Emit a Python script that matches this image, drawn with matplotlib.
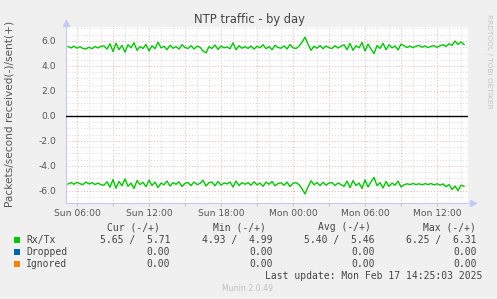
import numpy as np
import matplotlib
matplotlib.use('Agg')
import matplotlib.pyplot as plt
from matplotlib.ticker import MultipleLocator, FuncFormatter

# NTP traffic, 15 min samples starting Sun 05:15 (hours since Sun 00:00)
t_start = 5.25
t_step = 0.25
tx = [5.56, 5.44, 5.58, 5.42, 5.54, 5.40, 5.36, 5.50, 5.38, 5.56, 5.44, 5.58,
      5.60, 5.35, 5.78, 5.15, 5.82, 5.30, 5.65, 5.10, 5.70, 5.45, 5.85, 5.25, 5.55, 5.40, 5.72, 5.20,
      5.62, 5.38, 5.90, 5.45, 5.58, 5.30, 5.66, 5.42, 5.55, 5.35, 5.70, 5.48, 5.40, 5.62, 5.36, 5.58,
      5.50, 5.20, 5.05, 5.55, 5.40, 5.68, 5.32, 5.60, 5.45, 5.52, 5.38, 5.85, 5.30, 5.62, 5.42, 5.55,
      5.40, 5.60, 5.35, 5.58, 5.45, 5.70, 5.38, 5.55, 5.30, 5.65, 5.48, 5.42, 5.60, 5.36, 5.72, 5.45, 5.40, 5.58, 5.90,
      6.31, 5.75, 5.25,
      5.58, 5.42, 5.64, 5.38, 5.60, 5.46, 5.40, 5.62, 5.44, 5.58,
      5.70, 5.30, 5.80, 5.25, 5.62, 5.45, 5.88, 5.20, 5.75, 5.35, 4.99, 5.65, 5.40, 5.82, 5.30, 5.70, 5.45, 5.60, 5.28, 5.75,
      5.62, 5.48, 5.60, 5.46, 5.58, 5.64, 5.50, 5.60, 5.47, 5.58, 5.62, 5.49,
      5.62, 5.70, 5.55, 5.78, 5.65, 6.00, 5.72, 5.92, 5.71]
rx = [5.46, 5.34, 5.48, 5.32, 5.44, 5.50, 5.30, 5.46, 5.34, 5.50, 5.38, 5.52,
      5.55, 5.28, 5.72, 5.10, 5.80, 5.25, 5.60, 5.05, 5.65, 5.38, 5.82, 5.18, 5.50, 5.32, 5.68, 5.15,
      5.58, 5.30, 5.75, 5.38, 5.52, 5.22, 5.62, 5.35, 5.48, 5.28, 5.66, 5.40, 5.34, 5.58, 5.30, 5.50,
      5.42, 5.15, 5.62, 5.35, 5.30, 5.60, 5.25, 5.55, 5.38, 5.45, 5.30, 5.70, 5.22, 5.58, 5.35, 5.48,
      5.35, 5.55, 5.28, 5.52, 5.38, 5.65, 5.30, 5.48, 5.25, 5.60, 5.42, 5.36, 5.55, 5.30, 5.66, 5.40, 5.35, 5.50, 5.85,
      6.25, 5.70, 5.20,
      5.52, 5.34, 5.58, 5.32, 5.54, 5.38, 5.35, 5.58, 5.38, 5.50,
      5.65, 5.22, 5.75, 5.18, 5.58, 5.38, 5.82, 5.12, 5.70, 5.28, 4.93, 5.60, 5.35, 5.78, 5.25, 5.65, 5.38, 5.55, 5.22, 5.70,
      5.52, 5.44, 5.50, 5.42, 5.50, 5.44, 5.52, 5.43, 5.50, 5.42, 5.53, 5.44,
      5.55, 5.45, 5.68, 5.50, 5.90, 5.62, 6.00, 5.55, 5.65]

legend_names = ['Rx/Tx', 'Dropped', 'Ignored']
legend_colors = ['#00cc00', '#0066b3', '#ff8000']
cur_vals = ['5.65 /  5.71', '0.00', '0.00']
min_vals = ['4.93 /  4.99', '0.00', '0.00']
avg_vals = ['5.40 /  5.46', '0.00', '0.00']
max_vals = ['6.25 /  6.31', '0.00', '0.00']
col_heads = ['Cur (-/+)', 'Min (-/+)', 'Avg (-/+)', 'Max (-/+)']

W, H = 497, 299
def px(x, y):
    return x / W, 1 - y / H

fig = plt.figure(figsize=(W / 100, H / 100), dpi=100)
fig.patch.set_facecolor('#f0f0f0')
ax = fig.add_axes([66 / W, (H - 203) / H, (468 - 66) / W, (203 - 27) / H])
ax.set_facecolor('white')

t = t_start + t_step * np.arange(len(tx))
ax.plot(t, tx, color='#00cc00', lw=1.0, zorder=3)
ax.plot(t, -np.array(rx), color='#00cc00', lw=1.0, zorder=3)
ax.axhline(0, color='black', lw=1.0, zorder=4)

ax.set_xlim(5.083, 38.58)
ax.set_ylim(-6.98, 7.12)

ax.xaxis.set_major_locator(MultipleLocator(3))
ax.xaxis.set_minor_locator(MultipleLocator(1))
ax.yaxis.set_major_locator(MultipleLocator(2))
ax.yaxis.set_minor_locator(MultipleLocator(0.5))

def xfmt(h, pos):
    if round(h) % 6 != 0:
        return ''
    day = 'Sun' if h < 24 else 'Mon'
    return '%s %02d:00' % (day, int(round(h)) % 24)

ax.xaxis.set_major_formatter(FuncFormatter(xfmt))
ax.yaxis.set_major_formatter(FuncFormatter(lambda v, p: '%.1f' % v))

ax.grid(which='minor', color='#d8d8d8', lw=0.7, linestyle=(0, (1, 2)))
ax.grid(which='major', color='#eab0b0', lw=0.7, linestyle=(0, (1, 2)))
ax.set_axisbelow(True)

ax.tick_params(axis='x', which='major', length=2, color='#eab0b0', labelsize=6.6,
               labelcolor='#555555', pad=2)
ax.tick_params(axis='x', which='minor', length=0)
ax.tick_params(axis='y', which='both', length=0, labelsize=6.6, labelcolor='#555555', pad=7)

for s in ['top', 'right']:
    ax.spines[s].set_visible(False)
for s in ['left', 'bottom']:
    ax.spines[s].set_color('#c8c8f8')
    ax.spines[s].set_linewidth(0.8)

# axis arrows
ax.plot([0], [1.02], marker='^', ms=4, color='#c8c8f8', transform=ax.transAxes, clip_on=False)
ax.plot([1.012], [0], marker='>', ms=4, color='#c8c8f8', transform=ax.transAxes, clip_on=False)

fig.text(*px(10, 114), 'Packets/second received(-)/sent(+)', rotation=90, ha='center', va='center',
         fontsize=7.6, color='#555555')
fig.text(*px(249, 19), 'NTP traffic - by day', ha='center', va='center', fontsize=8.3, color='#444444')
fig.text(*px(489, 14), 'RRDTOOL / TOBI OETIKER', rotation=270, ha='center', va='top',
         fontsize=5.3, color='#c4c4c4')

mono = 'DejaVu Sans Mono'
fs = 7.0
tc = '#444444'
head_x = [160, 266, 371, 476]
val_x = [170, 272.7, 374.7, 476.7]
for i in range(4):
    fig.text(*px(head_x[i], 227.5), col_heads[i], ha='right', va='center', family=mono, fontsize=fs, color=tc)
row_y = [239.7, 251.7, 263.7]
for r in range(3):
    y = row_y[r]
    fig.patches.append(plt.Rectangle(px(14, y + 3), 6 / W, 6 / H, transform=fig.transFigure,
                                     facecolor=legend_colors[r], edgecolor='none'))
    fig.text(*px(26, y), legend_names[r], ha='left', va='center', family=mono, fontsize=fs, color=tc)
    for i, vals in enumerate([cur_vals, min_vals, avg_vals, max_vals]):
        fig.text(*px(val_x[i], y), vals[r], ha='right', va='center', family=mono, fontsize=fs, color=tc)

fig.text(*px(482, 275.7), 'Last update: Mon Feb 17 14:25:03 2025', ha='right', va='center',
         family=mono, fontsize=fs, color=tc)
fig.text(*px(248, 288.5), 'Munin 2.0.49', ha='center', va='center', fontsize=5.6, color='#c0c0c0')

fig.savefig('out.png', dpi=100, facecolor=fig.get_facecolor())
